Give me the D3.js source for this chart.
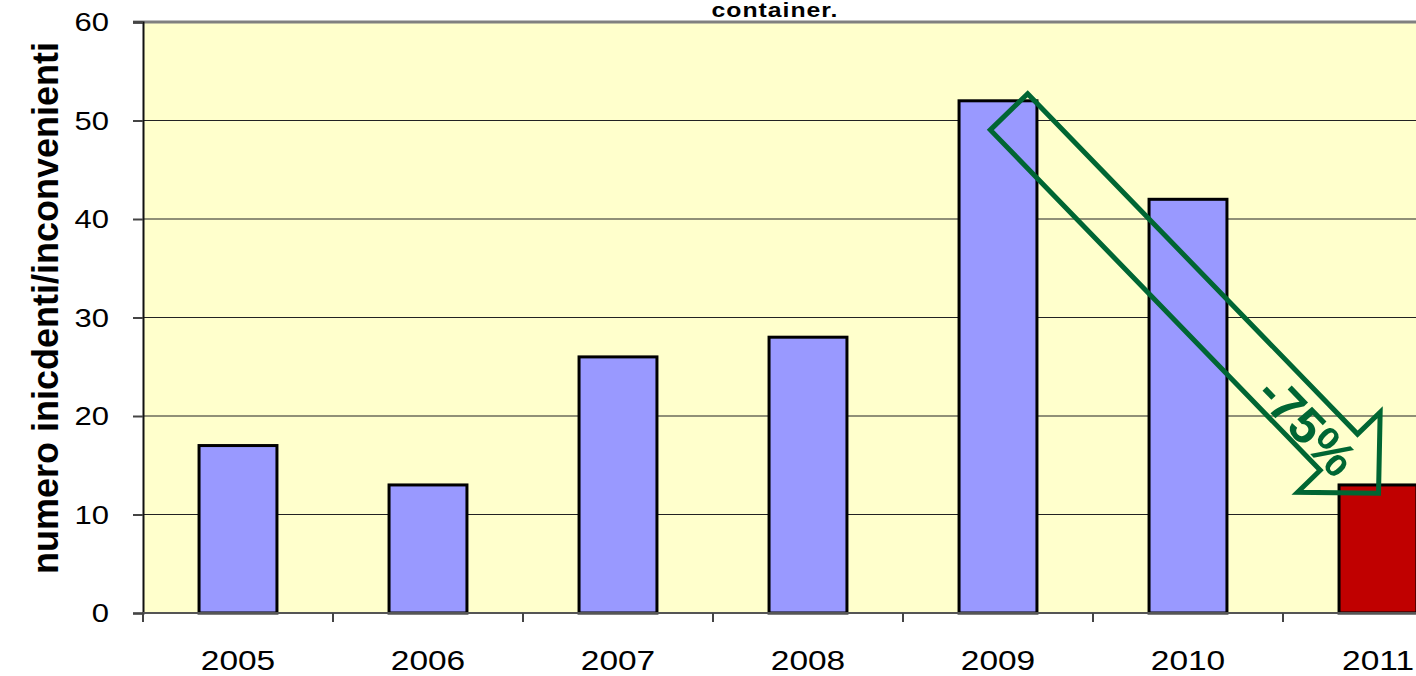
<!DOCTYPE html>
<html><head><meta charset="utf-8">
<script src="https://cdn.jsdelivr.net/npm/d3@7"></script>
<style>html,body{margin:0;padding:0;background:#fff;overflow:hidden}</style>
</head><body>
<svg id="c" width="1416" height="676"></svg>
<script>
const years = ["2005","2006","2007","2008","2009","2010","2011"];
const incidents = [17, 13, 26, 28, 52, 42, 13];
const highlightYear = "2011";
const yTicks = [0, 10, 20, 30, 40, 50, 60];
const titleText = "container.";
const yTitle = "numero inicdenti/inconvenienti";
const arrowLabel = "-75%";
const arrowFrom = "2009", arrowTo = "2011";

(function () {
const svg = d3.select("#c");
const pLeft = 143, pTop = 22, pBottom = 613, step = 190;
const x = d3.scaleBand().domain(years).range([pLeft, pLeft + step * years.length]).paddingInner(0.59).paddingOuter(0.295);
const y = d3.scaleLinear().domain([0, 60]).range([pBottom, pTop]);
const SX = 1.24;
const FF = "Liberation Sans, Arial, sans-serif";

svg.append("rect").attr("x", pLeft).attr("y", pTop).attr("width", 1416 - pLeft).attr("height", pBottom - pTop).attr("fill", "#FFFFCC");

svg.append("g").selectAll("line").data(yTicks.filter(d => d > 0 && d < 60)).join("line")
  .attr("x1", pLeft).attr("x2", 1416).attr("y1", d => y(d)).attr("y2", d => y(d))
  .attr("stroke", "#222").attr("stroke-width", 1.2);
svg.append("line").attr("x1", pLeft - 10).attr("x2", 1416).attr("y1", y(60)).attr("y2", y(60)).attr("stroke", "#808080").attr("stroke-width", 3);

svg.append("g").selectAll("rect").data(years).join("rect")
  .attr("x", d => x(d)).attr("width", x.bandwidth())
  .attr("y", (d, i) => y(incidents[i])).attr("height", (d, i) => y(0) - y(incidents[i]))
  .attr("fill", d => d === highlightYear ? "#C00000" : "#9999FF")
  .attr("stroke", "#000").attr("stroke-width", 3);

const ya = svg.append("g").attr("transform", `translate(${pLeft},0)`)
  .call(d3.axisLeft(y).tickValues(yTicks).tickSize(10).tickFormat(""));
ya.select(".domain").attr("stroke", "#111").attr("stroke-width", 2);
ya.selectAll(".tick line").attr("stroke", "#444").attr("stroke-width", 2);
svg.append("g").selectAll("text").data(yTicks).join("text")
  .attr("transform", d => `translate(109,${y(d)}) scale(${SX},1)`)
  .attr("text-anchor", "end").attr("dy", "0.36em")
  .attr("font-family", FF).attr("font-size", 25).attr("fill", "#000")
  .text(d => d);

svg.append("line").attr("x1", pLeft).attr("x2", 1416).attr("y1", pBottom).attr("y2", pBottom).attr("stroke", "#555").attr("stroke-width", 2);
svg.append("g").selectAll("line").data(years).join("line")
  .attr("x1", d => x(d) - x.step() * x.paddingOuter()).attr("x2", d => x(d) - x.step() * x.paddingOuter())
  .attr("y1", pBottom).attr("y2", pBottom + 9).attr("stroke", "#444").attr("stroke-width", 2);
svg.append("g").selectAll("text").data(years).join("text")
  .attr("transform", d => `translate(${x(d) + x.bandwidth() / 2},670) scale(${SX},1)`)
  .attr("text-anchor", "middle")
  .attr("font-family", FF).attr("font-size", 27).attr("fill", "#000")
  .text(d => d);

svg.append("text")
  .attr("transform", `translate(58,308) rotate(-90)`)
  .attr("text-anchor", "middle")
  .attr("font-family", FF).attr("font-weight", "bold").attr("font-size", 36).attr("fill", "#000")
  .text(yTitle);

svg.append("text")
  .attr("transform", `translate(775,17) scale(${SX},1)`)
  .attr("text-anchor", "middle")
  .attr("font-family", FF).attr("font-weight", "bold").attr("font-size", 20).attr("letter-spacing", 0.8).attr("fill", "#000")
  .text(titleText);

const iFrom = years.indexOf(arrowFrom);
const tailX = x(arrowFrom) + x.bandwidth() / 2 + 11, tailY = y(incidents[iFrom]) + 11;
const ang = 45.9;
const L = 474, hw = 26, hh = 57.5, tip = 57;
const pts = [[0,-hw],[L,-hw],[L,-hh],[L+tip,0],[L,hh],[L,hw],[0,hw]];
const ag = svg.append("g").attr("transform", `translate(${tailX},${tailY}) rotate(${ang})`);
ag.append("polygon").attr("points", pts.map(p => p.join(",")).join(" "))
  .attr("fill", "none").attr("stroke", "#006633").attr("stroke-width", 5).attr("stroke-linejoin", "miter");
ag.append("text").attr("x", 433).attr("y", 4).attr("text-anchor", "middle").attr("dy", "0.36em")
  .attr("font-family", FF).attr("font-weight", "bold").attr("font-size", 50).attr("fill", "#006633")
  .text(arrowLabel);
})();
</script>
</body></html>
